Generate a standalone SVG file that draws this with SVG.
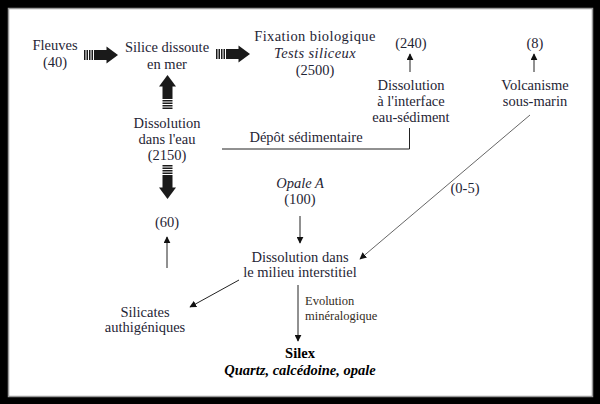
<svg xmlns="http://www.w3.org/2000/svg" width="600" height="404" viewBox="0 0 600 404" font-family="'Liberation Serif', 'Times New Roman', serif">
<style>
text{font-family:'Liberation Serif','Times New Roman',serif;font-size:14.5px;fill:#1f2535;text-anchor:middle}
.i{font-style:italic}
.b{font-weight:bold;fill:#000}
.s{font-size:12.5px;text-anchor:start;fill:#332c24}
.ln{stroke:#222;stroke-width:1;fill:none}
</style>
<defs>
<g id="harrow" fill="#1a1a1a">
<rect x="0" y="-5" width="1.5" height="10"/>
<rect x="2.5" y="-5" width="1.5" height="10"/>
<rect x="5" y="-5" width="1.5" height="10"/>
<rect x="7.5" y="-5" width="1.5" height="10"/>
<rect x="10" y="-5" width="13" height="10"/>
<polygon points="22.5,-8.5 34,0 22.5,8.5"/>
</g>
<marker id="ah" viewBox="0 0 10 10" refX="9" refY="5" markerWidth="7" markerHeight="7" markerUnits="userSpaceOnUse" orient="auto">
<path d="M0,0 L10,5 L0,10 z" fill="#111"/>
</marker>
</defs>
<rect x="0" y="0" width="600" height="404" fill="#000"/>
<rect x="8.5" y="8.5" width="584" height="388" fill="#fff" stroke="#9a9a9a" stroke-width="1.5"/>

<g id="connectors">
<use href="#harrow" transform="translate(84,55)"/>
<use href="#harrow" transform="translate(216,54)"/>
<use href="#harrow" transform="translate(167.5,109) rotate(-90)"/>
<use href="#harrow" transform="translate(167.5,165) rotate(90)"/>
<line class="ln" x1="410" y1="72" x2="410" y2="54" marker-end="url(#ah)"/>
<line class="ln" x1="534" y1="72" x2="534" y2="54" marker-end="url(#ah)"/>
<polyline class="ln" points="222,149 409.5,149 409.5,128"/>
<line class="ln" x1="300" y1="216" x2="300" y2="243" marker-end="url(#ah)"/>
<line class="ln" x1="167" y1="268" x2="167" y2="237" marker-end="url(#ah)"/>
<line x1="530" y1="115" x2="360" y2="259" stroke="#555" stroke-width="0.9" marker-end="url(#ah)"/>
<line class="ln" x1="239" y1="280" x2="190" y2="307" marker-end="url(#ah)"/>
<line class="ln" x1="298" y1="285" x2="298" y2="341" marker-end="url(#ah)"/>
</g>

<g id="fleuves"><text x="55" y="50">Fleuves</text><text x="55" y="67">(40)</text></g>
<g id="silice"><text x="167" y="52">Silice dissoute</text><text x="167" y="69">en mer</text></g>
<g id="fixation"><text x="315" y="41" letter-spacing="0.4">Fixation biologique</text><text class="i" x="315" y="58" letter-spacing="0.4">Tests siliceux</text><text x="315" y="75">(2500)</text></g>
<g id="v240"><text x="411" y="48">(240)</text></g>
<g id="v8"><text x="535" y="48">(8)</text></g>
<g id="interface"><text x="411" y="90">Dissolution</text><text x="411" y="106">à l'interface</text><text x="411" y="122">eau-sédiment</text></g>
<g id="volcanisme"><text x="535" y="90">Volcanisme</text><text x="535" y="106">sous-marin</text></g>
<g id="dissol-eau"><text x="167" y="128">Dissolution</text><text x="167" y="144">dans l'eau</text><text x="167" y="160">(2150)</text></g>
<g id="depot"><text x="306" y="142">Dépôt sédimentaire</text></g>
<g id="opale"><text class="i" x="300" y="188">Opale A</text><text x="300" y="204">(100)</text></g>
<g id="v60"><text x="167" y="227">(60)</text></g>
<g id="v05"><text x="465" y="193">(0-5)</text></g>
<g id="interstitiel"><text x="300" y="262">Dissolution dans</text><text x="300" y="277">le milieu interstitiel</text></g>
<g id="silicates"><text x="145" y="317">Silicates</text><text x="145" y="332">authigéniques</text></g>
<g id="evolution"><text class="s" x="305" y="305">Evolution</text><text class="s" x="305" y="320">minéralogique</text></g>
<g id="silex"><text class="b" x="300" y="358">Silex</text><text class="b i" x="300" y="375">Quartz, calcédoine, opale</text></g>
</svg>
